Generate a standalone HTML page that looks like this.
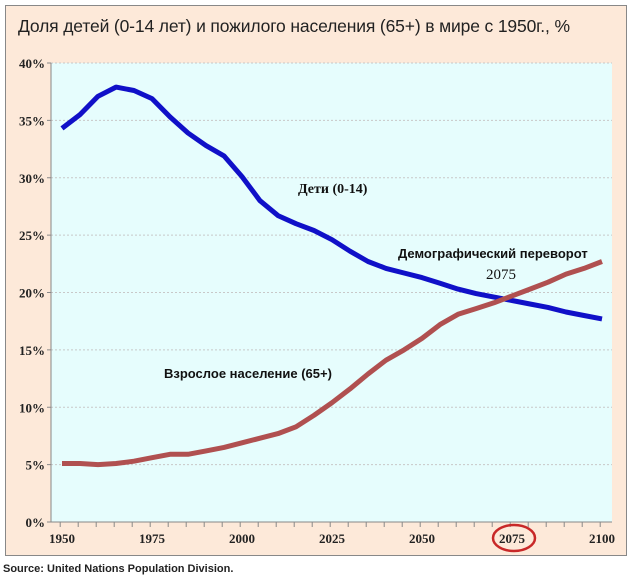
<!DOCTYPE html>
<html><head><meta charset="utf-8"><style>
body{margin:0;background:#fff;width:635px;height:576px;overflow:hidden}
</style></head><body>
<svg id="s" width="635" height="576" xmlns="http://www.w3.org/2000/svg">
<rect x="5.5" y="5.5" width="621" height="550" fill="#fde9d9" stroke="#888" stroke-width="1"/>
<text x="18" y="32" font-family="Liberation Sans, sans-serif" font-size="17.5" fill="#222" textLength="552">Доля детей (0-14 лет) и пожилого населения (65+) в мире с 1950г., %</text>
<rect x="51" y="63" width="561" height="459" fill="#e6fdfd"/>
<g id="grid" stroke="#c8c8c8" stroke-dasharray="2,2" stroke-width="1"></g>
<line x1="51" y1="63" x2="51" y2="522" stroke="#888"/>
<line x1="51" y1="522" x2="612" y2="522" stroke="#888"/>
<g id="ticks" stroke="#888"></g>
<g id="labels" font-family="Liberation Serif, serif" font-weight="bold" font-size="13" fill="#222"></g>
<polyline id="blue" fill="none" stroke="#1010c8" stroke-width="5" stroke-linejoin="round"/>
<polyline id="red" fill="none" stroke="#b05050" stroke-width="5" stroke-linejoin="round"/>
<text x="298" y="193" font-family="Liberation Serif, serif" font-weight="bold" font-size="14" fill="#111">Дети (0-14)</text>
<text x="398" y="258" font-family="Liberation Sans, sans-serif" font-weight="bold" font-size="13" fill="#111">Демографический переворот</text>
<text x="486" y="279" font-family="Liberation Serif, serif" font-size="15" fill="#111">2075</text>
<text x="164" y="378" font-family="Liberation Sans, sans-serif" font-weight="bold" font-size="13" fill="#111">Взрослое население  (65+)</text>
<ellipse cx="514" cy="538" rx="21" ry="13" fill="none" stroke="#c82828" stroke-width="2.5"/>
<text x="3" y="572" font-family="Liberation Sans, sans-serif" font-weight="bold" font-size="11" fill="#222">Source: United Nations Population Division.</text>
</svg>
<script>
var NS="http://www.w3.org/2000/svg";
function el(t,a,p,txt){var e=document.createElementNS(NS,t);for(var k in a)e.setAttribute(k,a[k]);if(txt)e.textContent=txt;document.getElementById(p).appendChild(e);}
function Y(v){return 522-v*11.475;}
function X(y){return 62+(y-1950)*3.6;}
for(var i=1;i<=8;i++){el('line',{x1:51,x2:612,y1:Y(i*5),y2:Y(i*5)},'grid');}
for(var i=0;i<=8;i++){el('line',{x1:47,x2:51,y1:Y(i*5),y2:Y(i*5)},'ticks');el('text',{x:45,y:Y(i*5)+5,'text-anchor':'end'},'labels',(i*5)+'%');}
for(var yr=1950;yr<=2100;yr+=5){var x=X(yr)-1.8;el('line',{x1:x,x2:x,y1:522,y2:527},'ticks');}
for(var yr=1950;yr<=2100;yr+=25){el('text',{x:X(yr),y:543,'text-anchor':'middle'},'labels',''+yr);}
var b=[34.3,35.5,37.1,37.9,37.6,36.9,35.3,33.9,32.8,31.9,30.1,28.0,26.7,26.0,25.4,24.6,23.6,22.7,22.1,21.7,21.3,20.8,20.3,19.9,19.6,19.3,19.0,18.7,18.3,18.0,17.7];
var r=[5.1,5.1,5.0,5.1,5.3,5.6,5.9,5.9,6.2,6.5,6.9,7.3,7.7,8.3,9.3,10.4,11.6,12.9,14.1,15.0,16.0,17.2,18.1,18.6,19.1,19.7,20.3,20.9,21.6,22.1,22.7];
function pts(a){return a.map(function(v,i){return X(1950+5*i).toFixed(1)+','+Y(v).toFixed(1);}).join(' ');}
document.getElementById('blue').setAttribute('points',pts(b));
document.getElementById('red').setAttribute('points',pts(r));
</script>
</body></html>
